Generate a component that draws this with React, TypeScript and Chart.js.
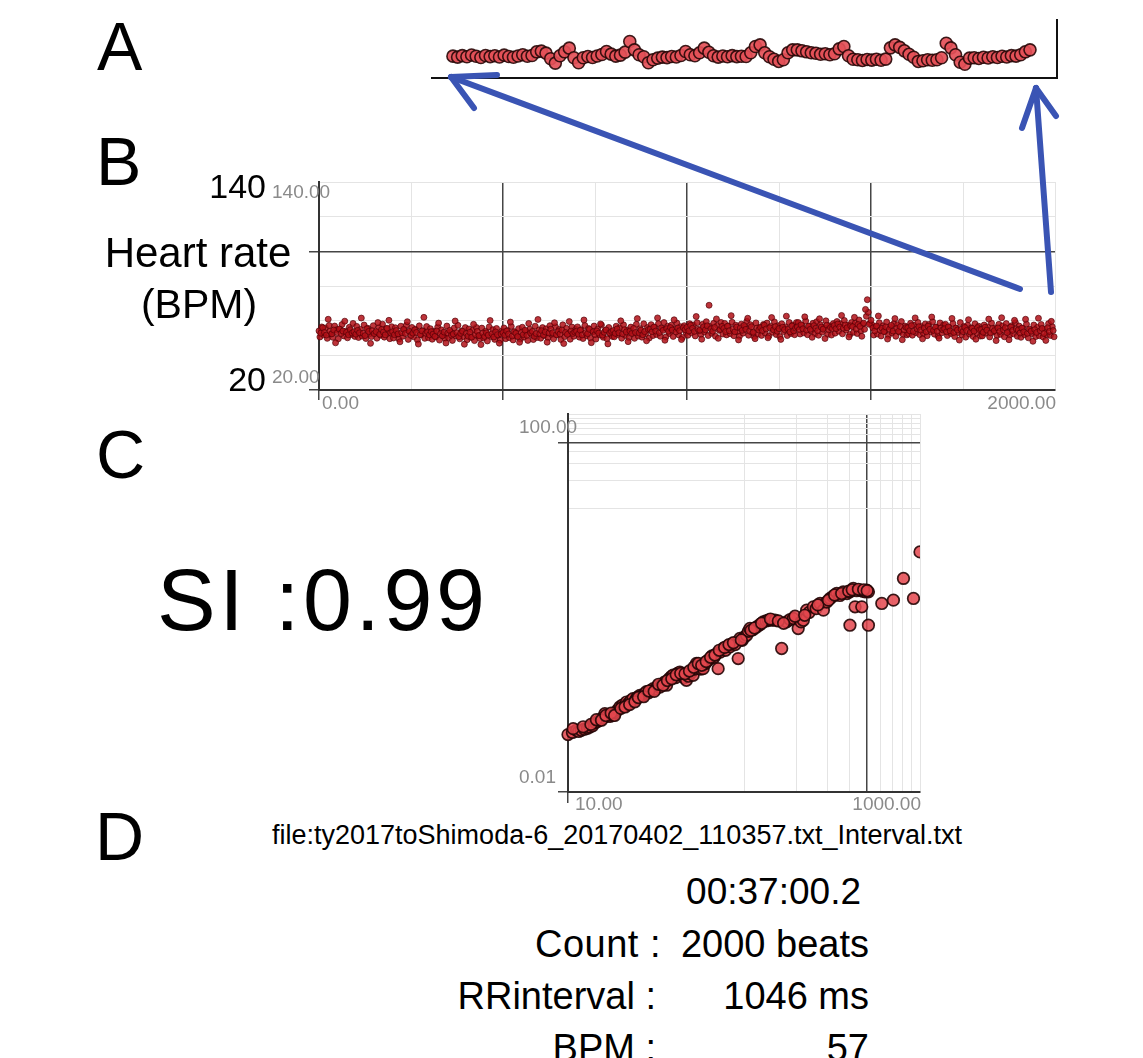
import React, { useEffect, useRef } from 'react';
import { Chart, registerables } from 'chart.js';

Chart.register(...registerables);

const FONT = "'Liberation Sans', Arial, Helvetica, sans-serif";

// ---------- Panel A : magnified last beats ----------
const aFirstBeat = 1875;
const aHeartRate = [
  53.2, 52.6, 53.5, 52.8, 53.9, 53.1, 52.4, 53.6, 52.9, 53.4, 52.7, 53.8, 53.0, 52.5, 53.3, 54.0, 53.1, 53.6,
  55.8, 56.2, 55.0, 51.6, 49.0, 53.4, 55.8, 58.0, 52.2, 49.2, 52.2,
  53.0, 52.4, 53.3, 54.2, 56.0, 54.4, 53.2, 53.8, 55.6,
  62.0, 57.0, 54.0, 52.8, 49.2, 51.0,
  52.0, 52.6, 52.3, 53.0, 52.7, 53.6,
  56.0, 54.0, 53.4, 55.2, 58.0, 55.5, 53.4,
  52.6, 53.3, 52.8, 53.5, 52.9, 53.1,
  53.0, 55.2, 59.0, 60.0, 55.2, 52.8, 51.3, 50.0, 51.0, 55.2, 57.0, 57.0, 56.4, 55.8, 55.2, 54.9, 54.3, 54.6, 54.0, 54.6, 57.6, 59.0, 53.4, 51.3,
  51.0, 50.6, 51.2, 50.8, 51.3, 50.7, 51.4,
  58.2, 60.0, 58.5, 56.4, 54.3, 52.5, 50.0, 50.4, 51.0, 50.7, 51.0, 52.2, 61.0, 58.2, 54.0, 49.5, 48.3, 52.0,
  52.2, 51.8, 52.5, 52.1, 52.8, 52.4, 53.1, 52.7, 53.5, 53.2, 54.0,
  55.8, 57.0,
];

// ---------- Panel B : heart rate vs beat number ----------
const bBeatStep = 5;
// beats 0, 5, 10, ...
const bHeartRate = [
  54.1, 52.8, 55.9, 53.2, 51.7, 60.8, 53.9, 52.4, 54.6, 47.2, 53.1, 55.2, 52.6, 54.0, 59.7, 53.3, 51.9, 54.8, 52.9, 53.6,
  52.2, 54.4, 53.0, 61.5, 52.7, 51.4, 55.3, 53.8, 46.9, 54.2, 52.5, 53.7, 58.9, 52.1, 54.9, 53.4, 51.8, 55.6, 60.2, 53.0,
  53.6, 51.9, 54.3, 52.4, 47.8, 53.1, 55.0, 52.6, 59.4, 53.9, 51.5, 52.8, 54.7, 53.2, 46.5, 52.0, 54.1, 61.9, 52.7, 53.5,
  51.8, 53.7, 52.2, 50.9, 54.0, 58.6, 52.5, 51.3, 53.4, 47.1, 52.9, 54.4, 51.6, 52.3, 59.8, 53.1, 50.8, 52.7, 53.9, 46.4,
  52.6, 51.1, 53.3, 50.5, 57.9, 52.0, 53.8, 51.4, 46.2, 52.8, 50.9, 53.0, 51.7, 60.1, 52.4, 50.6, 53.5, 51.9, 47.0, 52.3,
  53.1, 51.6, 54.0, 52.3, 59.2, 51.2, 53.6, 52.7, 50.8, 47.5, 53.3, 52.0, 54.5, 51.5, 58.4, 52.9, 53.8, 51.0, 52.6, 60.7,
  52.4, 54.2, 51.7, 53.5, 47.6, 52.9, 55.1, 53.0, 58.8, 51.9, 53.7, 52.3, 54.6, 46.8, 53.2, 52.1, 59.5, 54.0, 52.6, 53.4,
  53.9, 52.2, 54.4, 51.8, 60.4, 53.1, 52.5, 55.0, 47.3, 53.6, 52.0, 54.1, 52.8, 58.1, 51.6, 53.3, 54.7, 46.6, 52.9, 53.8,
  54.3, 52.7, 55.2, 53.0, 59.9, 52.4, 54.8, 53.5, 47.9, 54.0, 52.6, 55.5, 53.2, 61.2, 52.9, 54.5, 51.9, 53.7, 48.4, 54.9,
  55.1, 53.6, 56.3, 54.0, 61.6, 53.2, 55.8, 54.4, 48.7, 55.4, 53.9, 56.0, 54.6, 60.5, 53.5, 55.7, 54.2, 49.1, 55.9, 54.8,
  56.2, 54.1, 57.3, 55.6, 53.8, 62.4, 55.0, 54.5, 49.3, 56.4, 54.7, 57.0, 68.9, 55.3, 53.9, 56.1, 61.0, 49.8, 54.9, 56.7,
  55.5, 53.7, 56.8, 54.2, 62.9, 55.1, 53.6, 56.3, 48.9, 55.8, 54.4, 57.2, 55.0, 61.4, 54.0, 56.5, 53.3, 49.6, 55.7, 54.6,
  56.0, 54.3, 57.4, 55.2, 50.1, 55.9, 61.8, 54.7, 56.6, 53.9, 55.4, 49.2, 56.2, 54.8, 62.6, 55.1, 53.5, 56.9, 54.1, 55.7,
  56.4, 54.9, 57.6, 55.3, 62.2, 54.6, 56.8, 55.0, 50.4, 57.1, 55.6, 54.2, 61.1, 56.3, 55.1, 49.7, 57.4, 54.8, 56.0, 55.4,
  57.2, 55.4, 58.1, 56.3, 63.0, 55.7, 57.5, 55.9, 50.6, 57.0, 56.5, 61.9, 55.2, 57.8, 56.7, 51.0, 58.6, 66.5, 72.1, 57.9,
  60.3, 55.8, 54.1, 56.9, 62.7, 54.5, 55.6, 53.7, 56.4, 49.4, 55.1, 57.3, 54.0, 61.2, 55.5, 53.9, 56.6, 49.0, 54.8, 56.1,
  55.9, 54.2, 57.1, 53.8, 61.6, 55.3, 56.5, 54.6, 49.5, 55.7, 53.6, 56.8, 55.0, 62.1, 54.4, 56.2, 53.9, 49.9, 55.8, 54.7,
  55.3, 53.6, 56.4, 54.1, 61.3, 53.2, 55.7, 54.6, 48.8, 55.0, 53.7, 56.1, 54.3, 60.6, 53.4, 55.6, 54.0, 49.3, 56.0, 54.8,
  54.9, 53.3, 56.2, 54.5, 60.9, 53.0, 55.5, 54.2, 48.5, 55.8, 53.8, 61.7, 54.7, 55.9, 53.1, 49.0, 56.3, 54.4, 60.2, 55.2,
  54.6, 52.9, 55.7, 53.5, 60.8, 52.7, 55.1, 53.9, 48.1, 54.8, 53.2, 61.4, 54.2, 55.5, 52.6, 48.6, 55.9, 53.8, 59.6, 54.3,
];
// beats 2.5, 7.5, 12.5, ... (in-between beats)
const bHeartRateMid = [
  50.6, 56.4, 51.9, 55.8, 49.8, 57.2, 52.3, 50.4, 56.9, 54.7, 49.5, 55.1, 57.8, 51.2, 53.9, 50.1, 56.2, 52.0, 58.4, 50.9,
  56.7, 50.3, 54.9, 51.1, 57.5, 49.7, 55.6, 52.4, 50.8, 57.1, 53.0, 49.9, 56.0, 51.6, 58.0, 50.5, 55.3, 52.8, 49.6, 56.5,
  50.0, 55.9, 52.1, 49.4, 56.8, 51.0, 54.6, 57.4, 49.2, 53.3, 56.1, 50.7, 55.0, 48.9, 57.0, 51.8, 54.2, 49.8, 56.6, 50.2,
  55.4, 49.3, 53.8, 50.6, 56.3, 48.8, 54.7, 51.5, 49.9, 56.9, 50.1, 53.6, 48.6, 55.8, 51.2, 57.3, 49.5, 54.1, 50.8, 56.0,
  49.0, 55.2, 50.4, 54.4, 48.5, 56.1, 51.3, 49.7, 55.7, 50.0, 53.9, 48.3, 56.4, 50.9, 54.8, 49.2, 55.5, 51.6, 48.7, 54.0,
  55.8, 49.6, 54.3, 50.2, 56.7, 48.9, 53.5, 51.1, 55.4, 49.4, 56.2, 50.6, 53.8, 48.6, 55.1, 51.9, 49.1, 56.8, 50.3, 54.6,
  49.9, 56.0, 51.4, 55.3, 50.2, 57.1, 52.0, 49.5, 56.5, 51.7, 54.9, 49.1, 57.6, 50.8, 55.6, 52.5, 49.3, 56.3, 51.0, 55.0,
  56.4, 50.5, 54.8, 49.7, 57.2, 51.3, 55.5, 50.0, 53.7, 56.9, 49.4, 55.2, 51.8, 57.5, 50.4, 54.3, 49.6, 56.1, 52.2, 50.9,
  50.7, 56.8, 52.0, 55.9, 49.9, 57.6, 51.5, 54.6, 50.2, 56.3, 52.9, 49.8, 57.9, 51.1, 55.4, 50.5, 58.2, 52.4, 56.0, 50.0,
  57.7, 51.4, 56.2, 52.0, 58.3, 51.0, 55.5, 58.9, 50.6, 56.8, 52.6, 57.4, 50.9, 55.1, 58.6, 51.8, 56.5, 50.3, 57.1, 53.2,
  51.6, 58.2, 53.0, 57.5, 51.2, 58.8, 54.1, 52.0, 57.9, 53.5, 59.4, 51.4, 56.6, 52.7, 58.5, 51.0, 57.2, 54.4, 59.0, 52.3,
  58.4, 51.8, 56.9, 52.5, 59.1, 51.3, 57.4, 53.6, 51.0, 58.0, 52.8, 56.3, 59.6, 51.6, 57.7, 53.1, 50.9, 58.7, 52.2, 56.1,
  51.5, 57.8, 52.9, 58.6, 51.1, 56.7, 53.3, 59.3, 52.0, 57.1, 50.8, 58.2, 53.7, 56.4, 51.4, 59.0, 52.6, 57.5, 51.9, 58.9,
  58.9, 52.3, 57.2, 53.0, 59.8, 51.9, 56.8, 54.1, 58.5, 52.5, 59.4, 51.6, 57.6, 53.4, 55.9, 59.9, 52.1, 57.0, 51.7, 58.3,
  52.8, 59.5, 53.9, 58.2, 52.4, 60.1, 54.6, 57.4, 52.0, 59.0, 53.3, 58.6, 52.6, 60.4, 54.2, 57.9, 55.0, 62.5, 64.8, 58.5,
  57.6, 51.7, 56.4, 52.3, 58.8, 51.2, 57.0, 53.8, 59.2, 51.5, 56.2, 52.9, 58.3, 51.0, 57.7, 53.4, 59.5, 52.1, 56.9, 51.8,
  52.4, 58.5, 51.6, 57.3, 53.1, 59.0, 51.9, 56.6, 52.7, 58.1, 51.3, 57.8, 53.6, 59.4, 52.2, 56.3, 51.0, 58.7, 53.0, 57.5,
  57.9, 51.4, 56.1, 52.6, 58.4, 50.8, 55.7, 53.2, 58.9, 51.7, 56.6, 50.5, 57.4, 52.3, 55.9, 50.9, 58.2, 52.9, 56.8, 51.1,
  51.2, 57.5, 52.8, 56.4, 50.6, 58.6, 53.5, 55.8, 51.5, 57.9, 52.1, 56.9, 50.7, 58.3, 53.9, 51.8, 57.1, 52.4, 58.8, 51.0,
  56.9, 50.4, 55.6, 51.9, 58.0, 50.1, 54.7, 52.6, 57.5, 50.8, 56.2, 51.3, 57.8, 50.6, 55.2, 52.0, 58.3, 51.5, 56.5, 50.7,
];
const bXTickLabels = [0, 2000];
const bYTickLabels = [20, 140];

// ---------- Panel C : log-log scaling plot ----------
const cScale = [
  10.0, 10.6, 11.2, 11.5, 11.9, 12.4, 12.9, 13.3, 13.8, 14.3,
  14.7, 15.1, 15.7, 16.2, 16.7, 17.4, 18.0, 18.6, 19.2, 19.7,
  20.4, 20.9, 21.5, 22.1, 22.8, 23.4, 24.3, 24.8, 25.6, 26.3,
  27.2, 27.9, 28.7, 29.5, 30.5, 31.3, 32.4, 33.3, 34.3, 35.3,
  36.3, 37.6, 38.6, 39.5, 40.7, 41.9, 43.2, 44.5, 45.7, 47.1,
  48.4, 49.9, 51.4, 52.5, 53.7, 55.6, 56.9, 58.6, 60.3, 62.1,
  64.0, 65.8, 67.6, 69.5, 71.3, 73.3, 76.2, 78.5, 80.9, 83.2,
  86.1, 89.1, 92.7, 94.8, 97.7, 100.5, 103.5, 105.9, 108.1, 112.2,
  118.0, 123.0, 128.5, 133.4, 137.4, 143.5, 150.0, 163.7, 174.6, 182.8,
  190.5, 203.2, 211.3, 217.3, 227.0, 234.4, 247.7, 257.0, 270.4, 282.5,
  295.1, 308.3, 319.9, 336.5, 350.8, 366.4, 384.6, 399.9, 417.8, 399.9,
  427.6, 436.5, 456.0, 466.7, 473.2, 487.5, 497.7, 509.3, 509.3, 606.7,
  706.3, 805.4, 918.3, 1000,
  10.7, 12.2, 13.5, 14.5, 15.5, 16.4, 17.6, 18.4, 20.0, 21.1,
  22.4, 24.0, 25.1, 26.9, 28.8, 30.9, 32.7, 34.7, 36.7, 38.9,
  41.2, 43.7, 46.2, 49.0, 51.9, 55.0, 57.5, 61.0, 64.6, 68.4,
  72.4, 77.6, 82.2, 87.1, 96.6, 109.6, 114.8, 125.9, 141.3, 156.7,
  167.9, 195.0, 221.3, 263.0, 302.0, 327.3, 358.9, 393.6, 412.1, 446.7,
  478.6, 501.2,
];
const cFluct = [
  0.0405, 0.0427, 0.0450, 0.0437, 0.0450, 0.0462, 0.0473, 0.0488, 0.0501, 0.0543,
  0.0556, 0.0573, 0.0610, 0.0675, 0.0631, 0.0631, 0.0647, 0.0692, 0.0741, 0.0794,
  0.0832, 0.0813, 0.0895, 0.0871, 0.0933, 0.0973, 0.0955, 0.101, 0.105, 0.104,
  0.110, 0.115, 0.112, 0.119, 0.124, 0.122, 0.132, 0.129, 0.138, 0.145,
  0.135, 0.158, 0.166, 0.172, 0.162, 0.180, 0.186, 0.174, 0.162, 0.152,
  0.168, 0.182, 0.172, 0.200, 0.229, 0.216, 0.200, 0.202, 0.229, 0.245,
  0.258, 0.275, 0.266, 0.288, 0.202, 0.302, 0.330, 0.316, 0.351, 0.343,
  0.372, 0.363, 0.258, 0.421, 0.403, 0.437, 0.456, 0.501, 0.537, 0.519,
  0.558, 0.589, 0.631, 0.646, 0.658, 0.658, 0.658, 0.330, 0.631, 0.668,
  0.686, 0.537, 0.631, 0.658, 0.840, 0.794, 0.910, 0.871, 0.989, 0.840,
  1.023, 1.117, 1.175, 1.262, 1.202, 1.312, 1.259, 1.312, 1.426, 0.582,
  0.910, 1.349, 1.368, 0.910, 1.334, 1.312, 1.368, 1.312, 0.582, 0.989,
  1.072, 1.820, 1.117, 3.475,
  0.0468, 0.0490, 0.0519, 0.0582, 0.0575, 0.0646, 0.0684, 0.0646, 0.0767, 0.0794,
  0.0841, 0.0902, 0.100, 0.102, 0.117, 0.116, 0.138, 0.135, 0.151, 0.158,
  0.174, 0.180, 0.178, 0.191, 0.209, 0.229, 0.219, 0.240, 0.266, 0.282,
  0.316, 0.339, 0.363, 0.380, 0.407, 0.513, 0.543, 0.610, 0.676, 0.646,
  0.610, 0.724, 0.741, 0.955, 1.072, 1.216, 1.259, 1.334, 1.380, 1.396,
  1.380, 1.349,
];
const cXGrid = [10, 100, 200, 300, 400, 500, 600, 700, 800, 900, 1000];
const cYGrid = [0.01, 10, 20, 30, 40, 50, 60, 70, 80, 90, 100];
const cXTickLabels = [10, 1000];
const cYTickLabels = [0.01, 100];

// ---------- Panel D : summary ----------
const siValue = 0.99;
const fileName = 'ty2017toShimoda-6_20170402_110357.txt_Interval.txt';
const duration = '00:37:00.2';
const countBeats = 2000;
const rrInterval = 1046;
const meanBpm = 57;

const fmt = (v: number) => v.toFixed(2);

const cornerLabels = {
  id: 'cornerLabels',
  afterDraw(chart: any, _args: any, opts: any) {
    const items = opts && opts.items;
    if (!items || !items.length) return;
    const { ctx, chartArea } = chart;
    ctx.save();
    ctx.font = `${opts.size}px ${FONT}`;
    ctx.fillStyle = opts.color;
    ctx.textBaseline = 'middle';
    for (const it of items) {
      const s = chart.scales[it.axis];
      const p = s.getPixelForValue(it.value);
      let x: number;
      let y: number;
      if (it.axis === 'x') {
        x = p + it.dx;
        y = chartArea.bottom + it.dy;
      } else {
        x = chartArea.left + it.dx;
        y = p + it.dy;
      }
      ctx.textAlign = it.align;
      ctx.fillText(it.text, x, y);
    }
    ctx.restore();
  },
};

const DARK = '#454545';
const LIGHT = '#e4e4e4';
const NONE = 'rgba(0,0,0,0)';

function T(props: any) {
  const { x, base, size, align = 'left', color = '#000', spacing = 0, children } = props;
  const tx = align === 'left' ? '0' : align === 'right' ? '-100%' : '-50%';
  return (
    <div
      style={{
        position: 'absolute',
        left: x,
        top: base - size * 0.8465,
        fontSize: size,
        lineHeight: `${size}px`,
        fontFamily: FONT,
        color,
        letterSpacing: spacing,
        whiteSpace: 'nowrap',
        transform: `translateX(${tx})`,
      }}
    >
      {children}
    </div>
  );
}

export default function App() {
  const aRef = useRef<HTMLCanvasElement>(null);
  const bRef = useRef<HTMLCanvasElement>(null);
  const cRef = useRef<HTMLCanvasElement>(null);

  useEffect(() => {
    document.body.style.margin = '0';
    Chart.defaults.font.family = FONT;
    const charts: any[] = [];

    // Panel A
    charts.push(
      new Chart(aRef.current as HTMLCanvasElement, {
        type: 'scatter',
        data: {
          datasets: [
            {
              data: aHeartRate.map((v, i) => ({ x: aFirstBeat + i, y: v })),
              pointRadius: 6,
              pointBackgroundColor: 'rgba(228,80,88,0.92)',
              pointBorderColor: 'rgba(40,8,8,0.9)',
              pointBorderWidth: 1.6,
              clip: false as any,
            },
          ],
        },
        options: {
          responsive: false,
          animation: false,
          events: [],
          layout: { padding: { left: 12, right: 23, top: 10, bottom: 12 } },
          plugins: { legend: { display: false }, tooltip: { enabled: false } },
          scales: {
            x: {
              type: 'linear',
              min: 1870.5,
              max: 2004.8,
              grid: { display: false },
              ticks: { display: false },
              border: { display: true, color: '#111', width: 2 },
              afterFit: (s: any) => { s.height = 0; },
            },
            y: {
              type: 'linear',
              position: 'right',
              min: 40,
              max: 75,
              grid: { display: false },
              ticks: { display: false },
              border: { display: true, color: '#111', width: 2 },
              afterFit: (s: any) => { s.width = 0; },
            },
          },
        } as any,
      })
    );

    // Panel B
    const bMajorX = (v: number) => v === 0 || v === 500 || v === 1000 || v === 1500;
    const bMajorY = (v: number) => v === 20 || v === 100;
    const bPointStyle = {
      pointRadius: 3,
      pointBackgroundColor: 'rgba(178,16,24,0.85)',
      pointBorderColor: 'rgba(80,0,6,0.85)',
      pointBorderWidth: 0.8,
      clip: false as any,
    };
    charts.push(
      new Chart(bRef.current as HTMLCanvasElement, {
        type: 'scatter',
        data: {
          datasets: [
            { data: bHeartRate.map((v, i) => ({ x: i * bBeatStep, y: v })), ...bPointStyle },
            { data: bHeartRateMid.map((v, i) => ({ x: i * bBeatStep + bBeatStep / 2, y: v })), ...bPointStyle },
          ],
        },
        options: {
          responsive: false,
          animation: false,
          events: [],
          layout: { padding: { left: 59, right: 15, top: 12, bottom: 20 } },
          plugins: {
            legend: { display: false },
            tooltip: { enabled: false },
            cornerLabels: {
              size: 19,
              color: '#8a8a8a',
              items: [
                { axis: 'x', value: bXTickLabels[0], text: fmt(bXTickLabels[0]), dx: 3, dy: 14, align: 'left' },
                { axis: 'x', value: bXTickLabels[1], text: fmt(bXTickLabels[1]), dx: 1, dy: 14, align: 'right' },
                { axis: 'y', value: bYTickLabels[1], text: fmt(bYTickLabels[1]), dx: -47, dy: 11, align: 'left' },
                { axis: 'y', value: bYTickLabels[0], text: fmt(bYTickLabels[0]), dx: -47, dy: -12.5, align: 'left' },
              ],
            },
          },
          scales: {
            x: {
              type: 'linear',
              min: 0,
              max: 2000,
              ticks: { display: false, stepSize: 250 },
              grid: {
                color: (c: any) => (c.tick && bMajorX(c.tick.value) ? DARK : LIGHT),
                lineWidth: (c: any) => (c.tick && bMajorX(c.tick.value) ? 1.5 : 1),
                tickColor: (c: any) => (c.tick && bMajorX(c.tick.value) ? DARK : NONE),
                tickLength: 10,
              },
              border: { display: true, color: '#333', width: 2 },
              afterFit: (s: any) => { s.height = 10; },
            },
            y: {
              type: 'linear',
              min: 20,
              max: 140,
              ticks: { display: false, stepSize: 20 },
              grid: {
                color: (c: any) => (c.tick && bMajorY(c.tick.value) ? DARK : LIGHT),
                lineWidth: (c: any) => (c.tick && bMajorY(c.tick.value) ? 1.5 : 1),
                tickColor: (c: any) => (c.tick && bMajorY(c.tick.value) ? DARK : NONE),
                tickLength: 10,
              },
              border: { display: true, color: '#333', width: 2 },
              afterFit: (s: any) => { s.width = 10; },
            },
          },
        } as any,
        plugins: [cornerLabels as any],
      })
    );

    // Panel C
    const cMajorX = (v: number) => v === 10 || v === 500;
    const cMajorY = (v: number) => v === 0.01 || v === 50;
    charts.push(
      new Chart(cRef.current as HTMLCanvasElement, {
        type: 'scatter',
        data: {
          datasets: [
            {
              data: cScale.map((x, i) => ({ x, y: cFluct[i] })),
              pointRadius: 5.8,
              pointBackgroundColor: 'rgba(228,70,78,0.85)',
              pointBorderColor: 'rgba(35,5,5,0.9)',
              pointBorderWidth: 1.7,
              clip: { left: 10, top: 10, right: 0, bottom: 10 } as any,
            },
          ],
        },
        options: {
          responsive: false,
          animation: false,
          events: [],
          layout: { padding: { left: 58, right: 20, top: 14, bottom: 17 } },
          plugins: {
            legend: { display: false },
            tooltip: { enabled: false },
            cornerLabels: {
              size: 19,
              color: '#8a8a8a',
              items: [
                { axis: 'x', value: cXTickLabels[0], text: fmt(cXTickLabels[0]), dx: 7, dy: 13, align: 'left' },
                { axis: 'x', value: cXTickLabels[1], text: fmt(cXTickLabels[1]), dx: 1, dy: 13, align: 'right' },
                { axis: 'y', value: cYTickLabels[1], text: fmt(cYTickLabels[1]), dx: -49, dy: 14, align: 'left' },
                { axis: 'y', value: cYTickLabels[0], text: fmt(cYTickLabels[0]), dx: -49, dy: -14, align: 'left' },
              ],
            },
          },
          scales: {
            x: {
              type: 'logarithmic',
              min: 10,
              max: 1000,
              ticks: { display: false },
              afterBuildTicks: (s: any) => { s.ticks = cXGrid.map((v) => ({ value: v })); },
              grid: {
                color: (c: any) => (c.tick && cMajorX(c.tick.value) ? DARK : LIGHT),
                lineWidth: (c: any) => (c.tick && cMajorX(c.tick.value) ? 1.5 : 1),
                tickColor: (c: any) => (c.tick && c.tick.value === 10 ? DARK : NONE),
                tickLength: 11,
              },
              border: { display: true, color: '#333', width: 2 },
              afterFit: (s: any) => { s.height = 11; },
            },
            y: {
              type: 'logarithmic',
              min: 0.01,
              max: 100,
              ticks: { display: false },
              afterBuildTicks: (s: any) => { s.ticks = cYGrid.map((v) => ({ value: v })); },
              grid: {
                color: (c: any) => (c.tick && cMajorY(c.tick.value) ? DARK : LIGHT),
                lineWidth: (c: any) => (c.tick && cMajorY(c.tick.value) ? 1.5 : 1),
                tickColor: (c: any) => (c.tick && cMajorY(c.tick.value) ? DARK : NONE),
                tickLength: 10,
              },
              border: { display: true, color: '#333', width: 2 },
              afterFit: (s: any) => { s.width = 10; },
            },
          },
        } as any,
        plugins: [cornerLabels as any],
      })
    );

    return () => {
      charts.forEach((c) => c.destroy());
    };
  }, []);

  const blue = '#3a54b4';

  return (
    <div
      style={{
        position: 'absolute',
        left: 0,
        top: 0,
        width: 1143,
        height: 1058,
        background: '#fff',
        overflow: 'hidden',
        fontFamily: FONT,
      }}
    >
      <canvas ref={aRef} width={660} height={80} style={{ position: 'absolute', left: 420, top: 10 }} />
      <canvas ref={bRef} width={820} height={250} style={{ position: 'absolute', left: 250, top: 170 }} />
      <canvas ref={cRef} width={440} height={420} style={{ position: 'absolute', left: 500, top: 400 }} />

      {/* panel letters */}
      <T x={97} base={70} size={68}>A</T>
      <T x={96} base={185} size={68}>B</T>
      <T x={96} base={478} size={68}>C</T>
      <T x={95} base={860} size={68}>D</T>

      {/* panel B left labels */}
      <T x={266} base={198} size={34} align="right">140</T>
      <T x={198} base={268} size={42} align="center">Heart rate</T>
      <T x={199} base={319} size={41} align="center">(BPM)</T>
      <T x={266} base={391} size={34} align="right">20</T>

      {/* panel C */}
      <T x={157} base={630} size={88} spacing={3.5}>{`SI :${siValue.toFixed(2)}`}</T>

      {/* panel D */}
      <T x={617} base={845} size={27} align="center">{`file:${fileName}`}</T>
      <T x={861} base={904} size={37} align="right">{duration}</T>
      <T x={661} base={957} size={38} align="right" spacing={0.5}>Count :</T>
      <T x={869} base={957} size={38} align="right">{`${countBeats} beats`}</T>
      <T x={656} base={1009} size={38} align="right">RRinterval :</T>
      <T x={869} base={1009} size={38} align="right">{`${rrInterval} ms`}</T>
      <T x={656} base={1061} size={38} align="right">BPM :</T>
      <T x={869} base={1061} size={38} align="right">{`${meanBpm}`}</T>

      {/* blue annotation arrows */}
      <svg width={1143} height={1058} style={{ position: 'absolute', left: 0, top: 0, pointerEvents: 'none' }}>
        <g stroke={blue} strokeWidth={6} strokeLinecap="round" fill="none">
          <line x1={1020} y1={289} x2={451} y2={77} />
          <line x1={451} y1={77} x2={497} y2={75} />
          <line x1={451} y1={77} x2={474} y2={108} />
          <line x1={1051} y1={292} x2={1036} y2={88} />
          <line x1={1036} y1={88} x2={1022} y2={128} />
          <line x1={1036} y1={88} x2={1056} y2={116} />
        </g>
      </svg>
    </div>
  );
}
